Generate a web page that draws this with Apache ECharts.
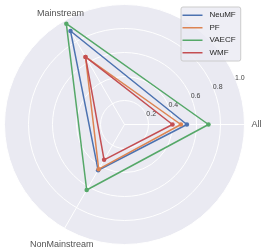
<!DOCTYPE html>
<html>
<head>
<meta charset="utf-8">
<script src="https://cdn.jsdelivr.net/npm/echarts@6/dist/echarts.min.js"></script>
<style>html,body{margin:0;padding:0;background:#fff}#c{width:264px;height:250px}</style>
</head>
<body>
<div id="c"></div>
<script>
const categories = ['All', 'Mainstream', 'NonMainstream'];
const seriesNames = ['NeuMF', 'PF', 'VAECF', 'WMF'];
const neumf = [0.52, 0.90, 0.44];
const pf = [0.47, 0.65, 0.43];
const vaecf = [0.70, 0.97, 0.63];
const wmf = [0.40, 0.65, 0.34];
const radialTicks = [0.2, 0.4, 0.6, 0.8, 1.0];

const colors = ['#4C72B0', '#DD8452', '#55A868', '#C44E52'];
const values = [neumf, pf, vaecf, wmf];
const FONT = '"Liberation Sans", Arial, sans-serif';
const CX = 124.5, CY = 124.5, R = 120;
const nameRadius = [1.1, 1.085, 1.13];
const nameOffset = [[0, 0], [1, 2], [5, 3]];

const chart = echarts.init(document.getElementById('c'), null, {renderer: 'canvas'});
const option = {
  backgroundColor: '#ffffff',
  animation: false,
  legend: {
    data: seriesNames,
    orient: 'vertical',
    left: 181, top: 7,
    padding: [2, 5, 2, 1.5],
    itemGap: 0,
    itemWidth: 20, itemHeight: 1.5,
    icon: 'rect',
    backgroundColor: 'rgba(234,234,242,0.8)',
    borderColor: '#cccccc', borderWidth: 1, borderRadius: 2,
    textStyle: {fontFamily: FONT, fontSize: 8, color: '#262626', lineHeight: 12.5, padding: [0, 0, 0, 2]},
    selectedMode: false
  },
  radar: {
    center: [CX, CY], radius: R, startAngle: 0, shape: 'circle', splitNumber: 5,
    indicator: categories.map(n => ({name: n, min: 0, max: 1})),
    axisName: {show: false},
    axisLine: {lineStyle: {color: '#ffffff', width: 1}},
    splitLine: {lineStyle: {color: '#ffffff', width: 1}},
    splitArea: {areaStyle: {color: ['#EAEAF2']}},
    axisTick: {show: false},
    axisLabel: {show: false}
  },
  polar: [{center: [CX, CY], radius: R}, {center: [CX, CY], radius: R}],
  angleAxis: [
    {polarIndex: 0, type: 'category', data: categories, startAngle: 0, clockwise: false, boundaryGap: false,
     axisLine: {show: false}, axisTick: {show: false}, axisLabel: {show: false}, splitLine: {show: false}},
    {polarIndex: 1, type: 'value', min: 0, max: 360, startAngle: 22.5,
     axisLine: {show: false}, axisTick: {show: false}, axisLabel: {show: false}, splitLine: {show: false}}
  ],
  radiusAxis: [
    {polarIndex: 0, min: 0, max: 1, axisLine: {show: false}, axisTick: {show: false}, axisLabel: {show: false}, splitLine: {show: false}},
    {polarIndex: 1, min: 0, max: 1, interval: 0.2,
     axisLine: {show: false}, axisTick: {show: false}, splitLine: {show: false},
     axisLabel: {show: true, margin: 1, align: 'left', fontFamily: FONT, fontSize: 7, color: '#444444',
       formatter: v => (radialTicks.some(t => Math.abs(t - v) < 1e-9) ? v.toFixed(1) : '')}}
  ],
  series: [
    {
      type: 'radar', radarIndex: 0,
      symbol: 'circle', symbolSize: 4.5,
      data: seriesNames.map((n, i) => ({
        name: n, value: values[i],
        itemStyle: {color: colors[i]},
        lineStyle: {color: colors[i], width: 1.5}
      }))
    },
    {
      type: 'scatter', coordinateSystem: 'polar', polarIndex: 0, clip: false, silent: true,
      symbolSize: 1, itemStyle: {color: 'rgba(0,0,0,0)'},
      data: categories.map((c, i) => ({value: [nameRadius[i], c], label: {offset: nameOffset[i]}})),
      label: {show: true, position: 'inside', formatter: p => p.value[1],
        fontFamily: FONT, fontSize: 9, color: '#262626'}
    }
  ]
};
chart.setOption(option);
</script>
</body>
</html>
